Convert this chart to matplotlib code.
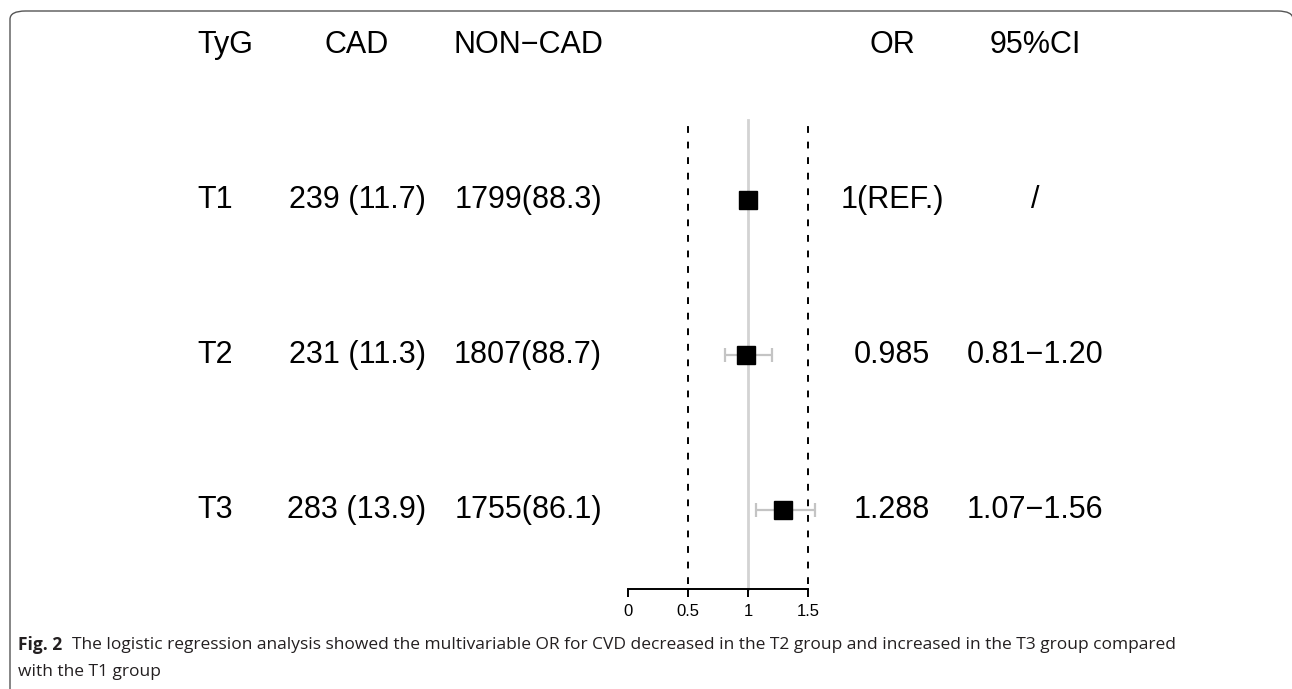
import numpy as np
import matplotlib
matplotlib.use("Agg")
import matplotlib.pyplot as plt
import matplotlib.transforms as mtransforms
from matplotlib.patches import FancyBboxPatch

# table data
headers = ['TyG', 'CAD', 'NON\u2212CAD', 'OR', '95%CI']
groups = ['T1', 'T2', 'T3']
cad = ['239 (11.7)', '231 (11.3)', '283 (13.9)']
noncad = ['1799(88.3)', '1807(88.7)', '1755(86.1)']
or_vals = [1.0, 0.985, 1.288]
ci_low = [np.nan, 0.81, 1.07]
ci_high = [np.nan, 1.20, 1.56]
or_text = ['1(REF.)', '0.985', '1.288']
ci_text = ['/', '0.81\u22121.20', '1.07\u22121.56']
ref_lines = [0.5, 1.5]
xticks = [0, 0.5, 1, 1.5]

W, H = 1292, 689
fig = plt.figure(figsize=(W / 100, H / 100), dpi=100)

# frame around the figure (rounded corners)
frame = FancyBboxPatch((10 / W, -0.2), (1293 - 10) / W, (H - 11) / H + 0.2,
                       boxstyle="round,pad=0,rounding_size=0.012",
                       transform=fig.transFigure, fill=False,
                       edgecolor='#555555', linewidth=1.0)
fig.patches.append(frame)

# forest plot axes
ax = fig.add_axes([628 / W, (H - 589) / H, 180 / W, (589 - 120) / H])
rows = np.arange(1, len(groups) + 1)
ax.set_xlim(0, 1.5)
ax.set_ylim(3.51, 0.484)

ax.axvline(1, color='#d3d3d3', lw=2, zorder=1, clip_on=False)
for v in ref_lines:
    ax.axvline(v, color='black', lw=1.4, ls=(0, (3.5, 4.5)), ymin=0.01, ymax=1,
               zorder=1, clip_on=False)

lo = np.array(or_vals) - np.array(ci_low)
hi = np.array(ci_high) - np.array(or_vals)
ax.errorbar(or_vals, rows, xerr=[lo, hi], fmt='none', ecolor='#c4c4c4',
            elinewidth=1.6, capsize=5, capthick=1.6, zorder=2, clip_on=False)
ax.plot(or_vals, rows, 's', color='black', markersize=13, zorder=3)

for s in ['top', 'left', 'right']:
    ax.spines[s].set_visible(False)
ax.spines['bottom'].set_linewidth(1.4)
ax.set_yticks([])
ax.set_xticks(xticks)
ax.set_xticklabels(['0', '0.5', '1', '1.5'])
ax.tick_params(axis='x', direction='out', length=6, width=1.4, labelsize=12, pad=5)
for lab in ax.get_xticklabels():
    lab.set_family('Liberation Sans')
ax.patch.set_visible(False)

# text columns
trans = mtransforms.blended_transform_factory(fig.transFigure, ax.transData)
fs = 22
font = 'Liberation Sans'
col_x = [197 / W, 357 / W, 528 / W, 892 / W, 1035 / W]
col_ha = ['left', 'center', 'center', 'center', 'center']
for x, ha, h in zip(col_x, col_ha, headers):
    ax.text(x, 0, h, transform=trans, ha=ha, va='center', fontsize=fs,
            family=font, clip_on=False)
for i, r in enumerate(rows):
    vals = [groups[i], cad[i], noncad[i], or_text[i], ci_text[i]]
    for x, ha, v in zip(col_x, col_ha, vals):
        ax.text(x, r, v, transform=trans, ha=ha, va='center', fontsize=fs,
                family=font, clip_on=False)

# caption
cap_font = 'Open Sans'
fig.text(18 / W, 1 - 645 / H, 'Fig. 2', fontsize=12.5, fontweight='bold',
         family=cap_font, color='#231f20', va='center')
fig.text(72 / W, 1 - 645 / H,
         'The logistic regression analysis showed the multivariable OR for CVD '
         'decreased in the T2 group and increased in the T3 group compared',
         fontsize=12.5, family=cap_font, color='#231f20', va='center')
fig.text(18 / W, 1 - 672 / H, 'with the T1 group', fontsize=12.5,
         family=cap_font, color='#231f20', va='center')

fig.savefig('out.png', dpi=100)
